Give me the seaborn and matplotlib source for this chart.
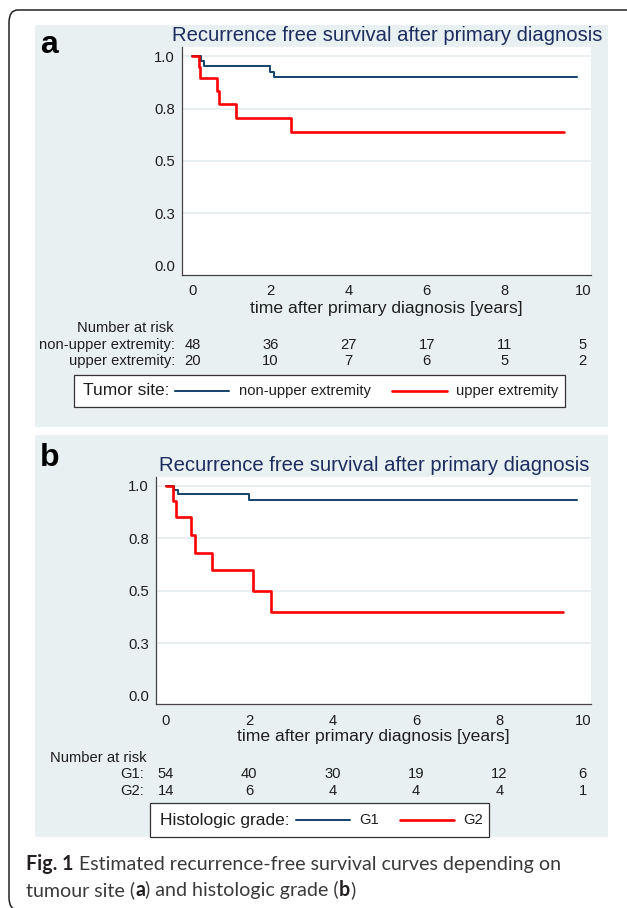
import numpy as np
import pandas as pd
import matplotlib
matplotlib.use("Agg")
import matplotlib.pyplot as plt
import seaborn as sns
from matplotlib import transforms
from matplotlib.patches import Rectangle, FancyBboxPatch
from matplotlib.lines import Line2D

# panel a: tumour site
site_labels = ["non-upper extremity", "upper extremity"]
site_nonupper_t = [0, 0.22, 0.30, 2.00, 2.10, 9.86]
site_nonupper_s = [1.0, 0.979, 0.955, 0.926, 0.901, 0.901]
site_upper_t = [0, 0.16, 0.20, 0.62, 0.69, 1.11, 2.53, 9.52]
site_upper_s = [1.0, 0.95, 0.898, 0.835, 0.771, 0.707, 0.637, 0.637]
site_risk_nonupper = [48, 36, 27, 17, 11, 5]
site_risk_upper = [20, 10, 7, 6, 5, 2]

# panel b: histologic grade
grade_labels = ["G1", "G2"]
grade_g1_t = [0, 0.20, 0.28, 2.00, 9.87]
grade_g1_s = [1.0, 0.981, 0.959, 0.934, 0.934]
grade_g2_t = [0, 0.18, 0.24, 0.60, 0.69, 1.10, 2.09, 2.53, 9.53]
grade_g2_s = [1.0, 0.925, 0.85, 0.765, 0.681, 0.597, 0.50, 0.399, 0.399]
grade_risk_g1 = [54, 40, 30, 19, 12, 6]
grade_risk_g2 = [14, 6, 4, 4, 4, 1]

risk_times = [0, 2, 4, 6, 8, 10]
y_ticks = [0, 0.25, 0.5, 0.75, 1.0]
y_ticklabels = ["0.0", "0.3", "0.5", "0.8", "1.0"]

title = "Recurrence free survival after primary diagnosis"
xlab = "time after primary diagnosis [years]"

sns.set_style("white")
plt.rcParams["font.family"] = ["Liberation Sans", "DejaVu Sans"]

W, H = 627, 908
NAVY = "#1a476f"
RED = "#ff0000"
BG = "#e9f0f2"
TXT = "#1e1e1e"

fig = plt.figure(figsize=(W / 100, H / 100), dpi=100)
fig.patch.set_facecolor("white")


def px(x):
    return x / W


def py(y):
    return 1 - y / H


def rect(l, t, r, b):
    return [px(l), py(b), (r - l) / W, (b - t) / H]


# outer rounded frame (runs off the right and bottom edges)
fig.add_artist(FancyBboxPatch((px(9), py(910)), (640 - 9) / W, (910 - 10) / H,
                              boxstyle="round,pad=0,rounding_size=0.014",
                              transform=fig.transFigure, fc="none", ec="#222222",
                              lw=1.1, zorder=-3))
# panel backgrounds
for t, b in [(25, 426.7), (435, 836.7)]:
    fig.add_artist(Rectangle((px(34.8), py(b)), (608 - 34.8) / W, (b - t) / H,
                             transform=fig.transFigure, fc=BG, ec="none", zorder=-2))


def km_panel(box, xlim, ylim, curves, labelpad):
    ax = fig.add_axes(rect(*box))
    ax.set_facecolor("white")
    for t, s, c, lw in curves:
        sns.lineplot(x=t, y=s, ax=ax, color=c, lw=lw, drawstyle="steps-post",
                     estimator=None, sort=False)
    ax.set_xlim(*xlim)
    ax.set_ylim(*ylim)
    ax.set_xticks(risk_times)
    ax.set_yticks(y_ticks)
    ax.set_yticklabels(y_ticklabels)
    ax.set_ylabel("")
    ax.yaxis.grid(True, color="#e3ebee", lw=1.1)
    ax.set_axisbelow(True)
    ax.get_ygridlines()[0].set_visible(False)
    for sp in ["top", "right"]:
        ax.spines[sp].set_visible(False)
    for sp in ["left", "bottom"]:
        ax.spines[sp].set_color("#444444")
        ax.spines[sp].set_linewidth(0.9)
    ax.tick_params(axis="y", length=3.7, width=0.9, pad=1.7, labelsize=10.7,
                   colors="#444444", labelcolor=TXT)
    ax.tick_params(axis="x", length=4.3, width=0.9, pad=2.4, labelsize=10.6,
                   colors="#444444", labelcolor=TXT)
    ax.set_title(title, fontsize=14.6, color="#1c2d5e", pad=4.3)
    ax.set_xlabel(xlab, fontsize=12.6, color=TXT, labelpad=labelpad)
    return ax


ax_a = km_panel((182.4, 46.7, 591.2, 275), (-0.256, 10.215), (-0.0444, 1.0458),
                [(site_nonupper_t, site_nonupper_s, NAVY, 1.45),
                 (site_upper_t, site_upper_s, RED, 1.9)], 2.0)
ax_b = km_panel((156.4, 476.7, 591.2, 704.3), (-0.23, 10.2), (-0.041, 1.0429),
                [(grade_g1_t, grade_g1_s, NAVY, 1.45),
                 (grade_g2_t, grade_g2_s, RED, 1.9)], 1.0)

fig.text(px(40), py(53.3), "a", fontsize=23, fontweight="bold", color="black", va="baseline")
fig.text(px(40), py(466), "b", fontsize=23, fontweight="bold", color="black", va="baseline")


def risk_table(ax, rows, head_x, head_ha, label_x):
    trans = transforms.blended_transform_factory(ax.transData, fig.transFigure)
    (hy, head), *body = rows
    fig.text(px(head_x), py(hy), head, ha=head_ha, va="center", fontsize=10.6, color=TXT)
    for y, lab, counts in body:
        fig.text(px(label_x), py(y), lab, ha="right", va="center", fontsize=10.6, color=TXT)
        for t, n in zip(risk_times, counts):
            ax.text(t, py(y), str(n), transform=trans, ha="center", va="center",
                    fontsize=10.6, color=TXT)


risk_table(ax_a, [(328, "Number at risk"),
                  (345, site_labels[0] + ":", site_risk_nonupper),
                  (361, site_labels[1] + ":", site_risk_upper)],
           174, "right", 175)
risk_table(ax_b, [(758.3, "Number at risk"),
                  (774.3, grade_labels[0] + ":", grade_risk_g1),
                  (791, grade_labels[1] + ":", grade_risk_g2)],
           49.6, "left", 144.4)


def legend_box(box, yc, title_x, title_txt, items):
    l, t, r, b = box
    fig.add_artist(Rectangle((px(l), py(b)), (r - l) / W, (b - t) / H,
                             transform=fig.transFigure, fc="white", ec="#333333", lw=0.9))
    fig.text(px(title_x), py(yc), title_txt, fontsize=12.5, color=TXT, va="center")
    for (x0, x1, tx), lab, c, lw in items:
        fig.add_artist(Line2D([px(x0), px(x1)], [py(yc), py(yc)],
                              transform=fig.transFigure, color=c, lw=lw))
        fig.text(px(tx), py(yc), lab, fontsize=10.6, color=TXT, va="center")


legend_box((74, 375, 565.2, 407.3), 390.7, 83.2, "Tumor site:",
           [((175.2, 229.2, 238.8), site_labels[0], NAVY, 1.45),
            ((392, 446.8, 455.6), site_labels[1], RED, 1.9)])
legend_box((150, 803.3, 488.8, 836.7), 820, 160, "Histologic grade:",
           [((296, 350, 358.8), grade_labels[0], NAVY, 1.45),
            ((400, 454, 463.2), grade_labels[1], RED, 1.9)])

# caption with bold runs
renderer = fig.canvas.get_renderer()
cap_font = ["Lato", "DejaVu Sans"]


def caption_line(y, runs):
    x = 26
    for s, w in runs:
        t = fig.text(px(x), py(y), s, fontsize=14.1, fontweight=w, family=cap_font,
                     color="#231f20" if w == "bold" else "#3a3a3a", va="baseline")
        x = t.get_window_extent(renderer).x1


caption_line(870, [("Fig. 1", "bold"),
                   (" Estimated recurrence-free survival curves depending on", "normal")])
caption_line(896, [("tumour site (", "normal"), ("a", "bold"),
                   (") and histologic grade (", "normal"), ("b", "bold"), (")", "normal")])

fig.savefig("out.png", dpi=100)
